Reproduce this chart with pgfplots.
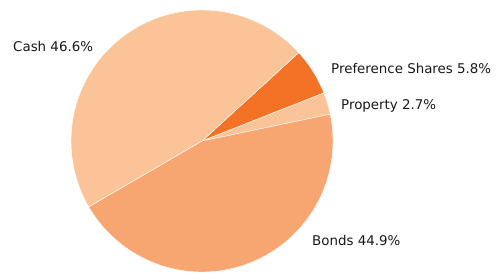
\documentclass[border=0pt]{standalone}
\usepackage{pgfplots}
\usepackage{pgfplotstable}
\pgfplotsset{compat=1.18}
\usepackage{fontspec}
\setmainfont{DejaVu Sans}
\definecolor{cashc}{HTML}{FBC398}
\definecolor{prefc}{HTML}{F37226}
\definecolor{propc}{HTML}{FBC398}
\definecolor{bondc}{HTML}{F8A671}
\pgfplotstableread{
label value
Preference 5.8
Property 2.7
Bonds 44.9
Cash 46.6
}\piedata
\begin{document}%
\pgfplotstablegetelem{0}{value}\of\piedata \let\vA\pgfplotsretval%
\pgfplotstablegetelem{1}{value}\of\piedata \let\vB\pgfplotsretval%
\pgfplotstablegetelem{2}{value}\of\piedata \let\vC\pgfplotsretval%
\pgfplotstablegetelem{3}{value}\of\piedata \let\vD\pgfplotsretval%
\pgfmathsetmacro\aO{42.4}%
\pgfmathsetmacro\aA{\aO-3.6*\vA}%
\pgfmathsetmacro\aB{\aA-3.6*\vB}%
\pgfmathsetmacro\aC{\aB-3.6*\vC}%
\pgfmathsetmacro\aD{\aC-3.6*\vD}%
\begin{tikzpicture}
\begin{axis}[
  scale only axis, width=497pt, height=273pt,
  xmin=0, xmax=497, ymin=0, ymax=273,
  hide axis, clip=false, anchor=south west, at={(0pt,0pt)},
]
\addplot[fill=prefc, draw=white, line width=0.4pt, domain=\aA:\aO, samples=30, variable=\t]
  ({202+131*cos(t)},{132+131*sin(t)}) -- (axis cs:202,132) -- cycle;
\addplot[fill=propc, draw=white, line width=0.4pt, domain=\aB:\aA, samples=20, variable=\t]
  ({202+131*cos(t)},{132+131*sin(t)}) -- (axis cs:202,132) -- cycle;
\addplot[fill=bondc, draw=white, line width=0.4pt, domain=\aC:\aB, samples=120, variable=\t]
  ({202+131*cos(t)},{132+131*sin(t)}) -- (axis cs:202,132) -- cycle;
\addplot[fill=cashc, draw=white, line width=0.4pt, domain=\aD:\aC, samples=120, variable=\t]
  ({202+131*cos(t)},{132+131*sin(t)}) -- (axis cs:202,132) -- cycle;
\node[anchor=base west, inner sep=0pt, font=\fontsize{13.4}{16}\selectfont, text=black!90] at (axis cs:13,221.5) {Cash 46.6\%};
\node[anchor=base west, inner sep=0pt, font=\fontsize{13.4}{16}\selectfont, text=black!90] at (axis cs:331,199) {Preference Shares 5.8\%};
\node[anchor=base west, inner sep=0pt, font=\fontsize{13.4}{16}\selectfont, text=black!90] at (axis cs:341,163) {Property 2.7\%};
\node[anchor=base west, inner sep=0pt, font=\fontsize{13.4}{16}\selectfont, text=black!90] at (axis cs:312,27.5) {Bonds 44.9\%};
\end{axis}
\pgfresetboundingbox
\path (0pt,0pt) rectangle (497pt,273pt);
\end{tikzpicture}%
\end{document}
